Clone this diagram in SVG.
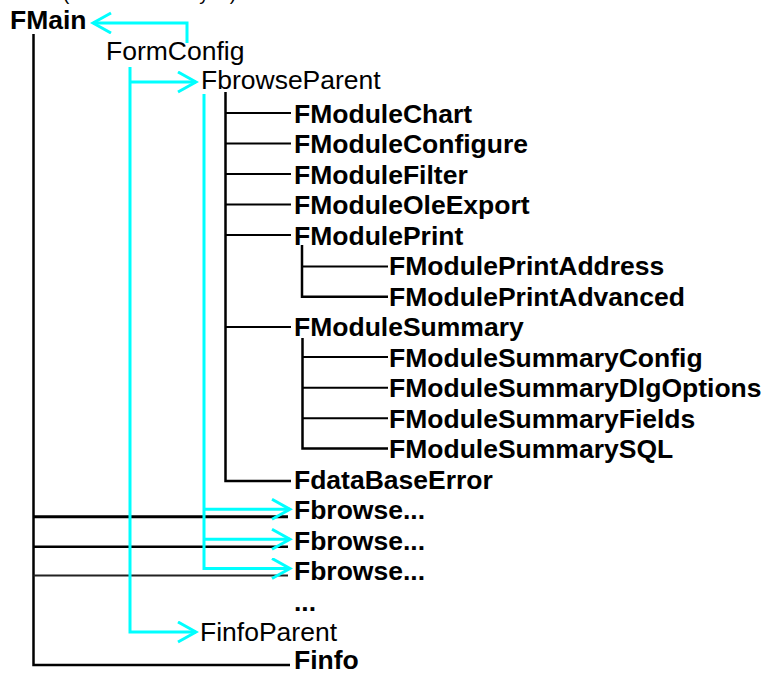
<svg xmlns="http://www.w3.org/2000/svg" width="766" height="675" viewBox="0 0 766 675">
<style>
  text { font-family: "Liberation Sans", Arial, sans-serif; font-size: 26.5px; fill: #000; }
  .b { font-weight: bold; }
  .tree { stroke: #000; stroke-width: 2.5; fill: none; }
  .br { stroke: #000; stroke-width: 2; fill: none; }
  .arr { stroke: #00FFFF; stroke-width: 3; fill: none; marker-end: url(#chev); }
</style>
<defs>
  <marker id="chev" markerUnits="userSpaceOnUse" markerWidth="22" markerHeight="24" refX="19" refY="11" orient="auto" viewBox="0 0 22 24">
    <path d="M1,1 L19,11 L1,21" fill="none" stroke="#00FFFF" stroke-width="3"/>
  </marker>
</defs>
<rect width="766" height="675" fill="#fff"/>

<text x="63" y="0" style="font-size:19px">(Owner hierarchy ...)</text>

<g id="connectors">
  <polyline class="tree" points="33.5,34 33.5,665 290,665"/>
  <line x1="33.5" y1="516.7" x2="288" y2="516.7" stroke="#000" stroke-width="3"/>
  <line x1="33.5" y1="546.7" x2="288" y2="546.7" stroke="#000" stroke-width="2.5"/>
  <line x1="33.5" y1="575.5" x2="288" y2="575.5" stroke="#222" stroke-width="1.8"/>

  <polyline class="tree" points="225.5,92 225.5,481 291,481"/>
  <line class="br" x1="225.5" y1="113" x2="291" y2="113"/>
  <line class="br" x1="225.5" y1="143.5" x2="291" y2="143.5"/>
  <line class="br" x1="225.5" y1="174" x2="291" y2="174"/>
  <line class="br" x1="225.5" y1="204.5" x2="291" y2="204.5" stroke-width="2.5"/>
  <line class="br" x1="225.5" y1="235" x2="291" y2="235"/>
  <line class="br" x1="225.5" y1="327" x2="291" y2="327"/>

  <polyline class="tree" points="302,245 302,296.7 388,296.7"/>
  <line class="br" x1="302" y1="266.5" x2="388" y2="266.5"/>

  <polyline class="tree" points="302.5,338 302.5,448.5 388,448.5"/>
  <line class="br" x1="302.5" y1="357" x2="388" y2="357"/>
  <line class="br" x1="302.5" y1="387.7" x2="388" y2="387.7"/>
  <line class="br" x1="302.5" y1="418.3" x2="388" y2="418.3"/>

  <path class="arr" d="M187,43 V23 H93"/>
  <path class="arr" d="M130,67 V632 H196"/>
  <path class="arr" d="M130,82 H196"/>
  <path class="arr" d="M204,94 V568.5 H290"/>
  <path class="arr" d="M204,509.3 H290"/>
  <path class="arr" d="M204,539.3 H290"/>
</g>

<g id="FMain"><text class="b" x="10" y="29">FMain</text></g>
<g id="FormConfig"><text x="106" y="60">FormConfig</text></g>
<g id="FbrowseParent"><text x="201" y="89">FbrowseParent</text></g>
<g id="FModuleChart"><text class="b" x="294" y="122.5">FModuleChart</text></g>
<g id="FModuleConfigure"><text class="b" x="294" y="153">FModuleConfigure</text></g>
<g id="FModuleFilter"><text class="b" x="294" y="183.5">FModuleFilter</text></g>
<g id="FModuleOleExport"><text class="b" x="294" y="214">FModuleOleExport</text></g>
<g id="FModulePrint"><text class="b" x="294" y="244.5">FModulePrint</text></g>
<g id="FModulePrintAddress"><text class="b" x="389" y="275">FModulePrintAddress</text></g>
<g id="FModulePrintAdvanced"><text class="b" x="389" y="305.5">FModulePrintAdvanced</text></g>
<g id="FModuleSummary"><text class="b" x="294" y="336">FModuleSummary</text></g>
<g id="FModuleSummaryConfig"><text class="b" x="389" y="366.5">FModuleSummaryConfig</text></g>
<g id="FModuleSummaryDlgOptions"><text class="b" x="389" y="397">FModuleSummaryDlgOptions</text></g>
<g id="FModuleSummaryFields"><text class="b" x="389" y="427.5">FModuleSummaryFields</text></g>
<g id="FModuleSummarySQL"><text class="b" x="389" y="458">FModuleSummarySQL</text></g>
<g id="FdataBaseError"><text class="b" x="294" y="488.5">FdataBaseError</text></g>
<g id="Fbrowse1"><text class="b" x="294" y="519">Fbrowse...</text></g>
<g id="Fbrowse2"><text class="b" x="294" y="549.5">Fbrowse...</text></g>
<g id="Fbrowse3"><text class="b" x="294" y="580">Fbrowse...</text></g>
<g id="More"><text class="b" x="294" y="610.5">...</text></g>
<g id="FinfoParent"><text x="200" y="641">FinfoParent</text></g>
<g id="Finfo"><text class="b" x="294" y="669">Finfo</text></g>
</svg>
